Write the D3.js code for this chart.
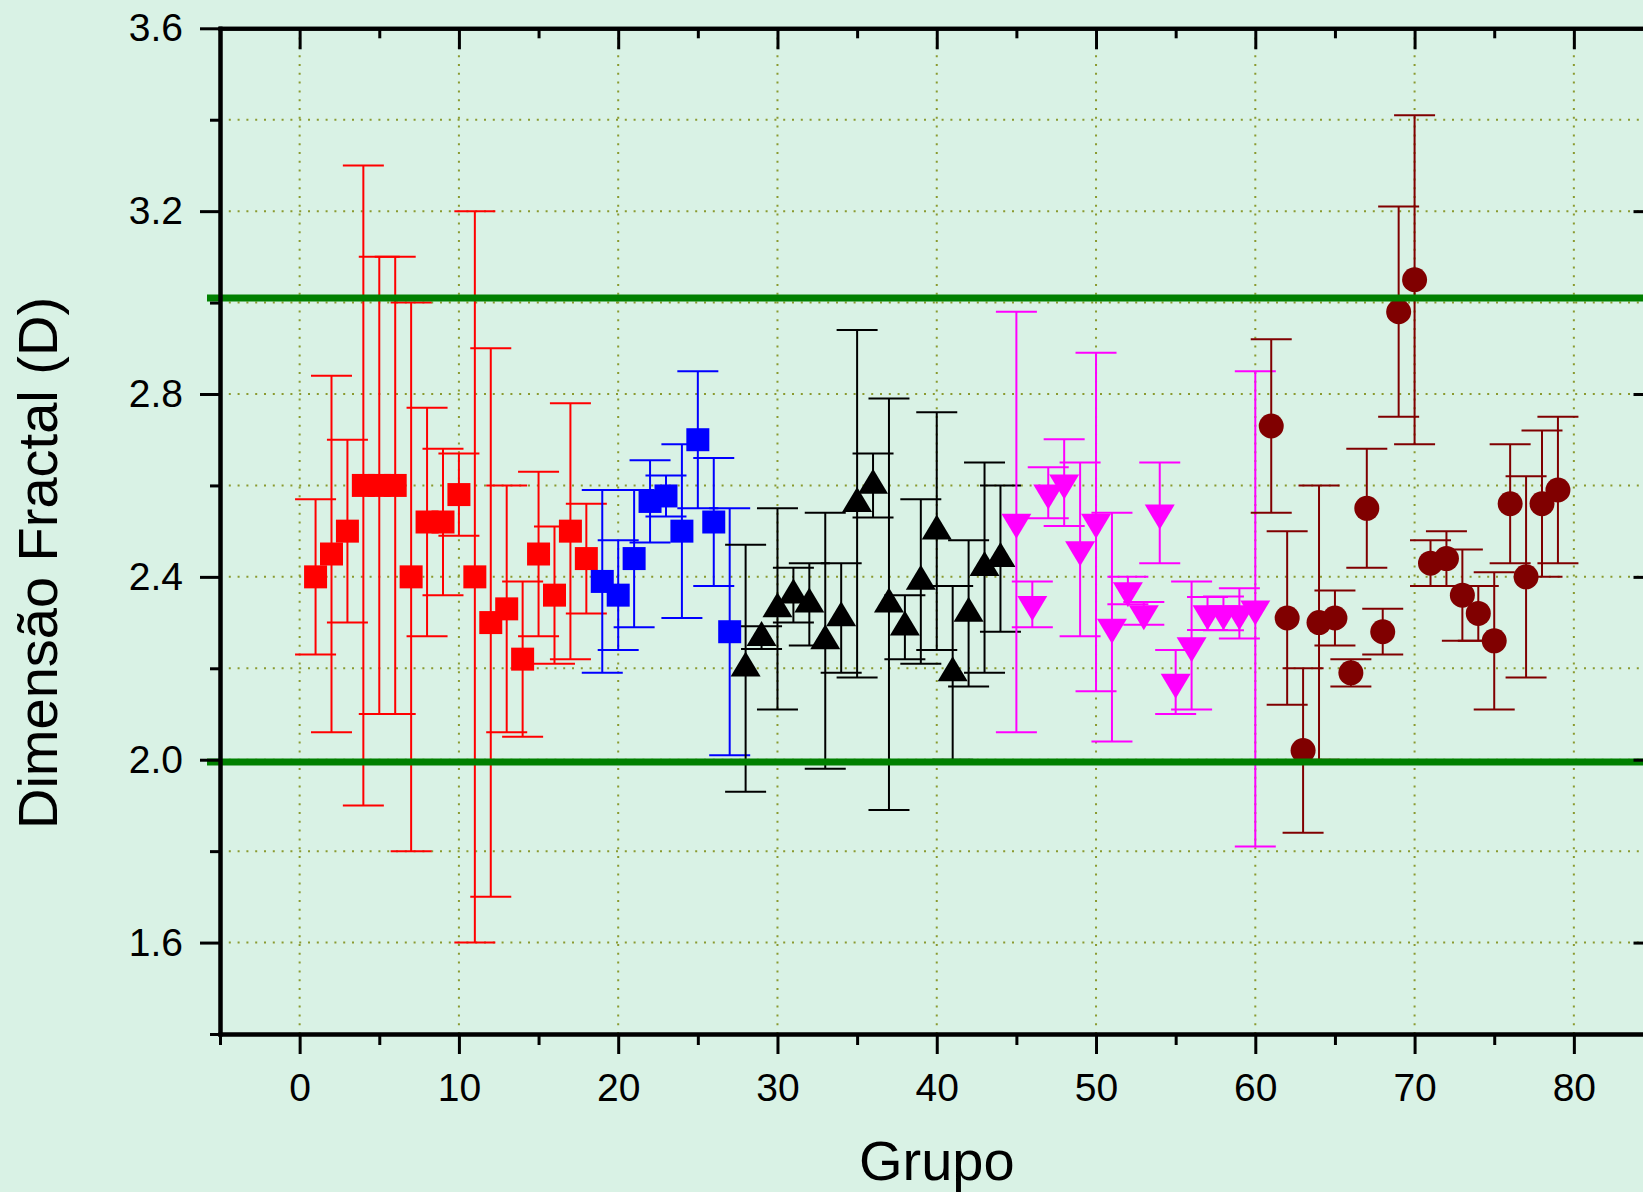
<!DOCTYPE html>
<html>
<head>
<meta charset="utf-8">
<script src="https://cdn.jsdelivr.net/npm/d3@7"></script>
<style>
  body { margin: 0; overflow: hidden; background: #d9f2e5; }
  text { font-family: "Liberation Sans", Arial, sans-serif; fill: #000; }
</style>
</head>
<body>
<div class="chart"></div>
<script>
// values (group number, fractal dimension, error)

const redGroups = [1, 2, 3, 4, 5, 6, 7, 8, 9, 10, 11, 12, 13, 14, 15, 16, 17, 18]
const redValues = [2.40, 2.45, 2.50, 2.60, 2.60, 2.60, 2.40, 2.52, 2.52, 2.58, 2.40, 2.30, 2.33, 2.22, 2.45, 2.36, 2.50, 2.44]
const redErrors = [0.17, 0.39, 0.20, 0.70, 0.50, 0.50, 0.60, 0.25, 0.16, 0.09, 0.80, 0.60, 0.27, 0.17, 0.18, 0.15, 0.28, 0.12]

const blueGroups = [19, 20, 21, 22, 23, 24, 25, 26, 27]
const blueValues = [2.39, 2.36, 2.44, 2.565, 2.577, 2.50, 2.70, 2.52, 2.28]
const blueErrors = [0.20, 0.12, 0.15, 0.09, 0.045, 0.19, 0.15, 0.14, 0.27]

const blackGroups = [28, 29, 30, 31, 32, 33, 34, 35, 36, 37, 38, 39, 40, 41, 42, 43, 44]
const blackValues = [2.20, 2.267, 2.33, 2.36, 2.34, 2.26, 2.31, 2.56, 2.60, 2.34, 2.29, 2.39, 2.50, 2.19, 2.32, 2.42, 2.44]
const blackErrors = [0.27, 0.025, 0.22, 0.06, 0.09, 0.28, 0.12, 0.38, 0.07, 0.45, 0.07, 0.18, 0.26, 0.19, 0.16, 0.23, 0.16]

const magentaGroups = [45, 46, 47, 48, 49, 50, 51, 52, 53, 54, 55, 56, 57, 58, 59, 60]
const magentaValues = [2.52, 2.34, 2.584, 2.606, 2.46, 2.52, 2.29, 2.37, 2.32, 2.54, 2.17, 2.25, 2.32, 2.32, 2.32, 2.33]
const magentaErrors = [0.46, 0.05, 0.056, 0.095, 0.19, 0.37, 0.25, 0.03, 0.025, 0.11, 0.07, 0.14, 0.036, 0.037, 0.055, 0.52]

const maroonGroups = [61, 62, 63, 64, 65, 66, 67, 68, 69, 70, 71, 72, 73, 74, 75, 76, 77, 78, 79]
const maroonValues = [2.73, 2.31, 2.02, 2.30, 2.31, 2.19, 2.55, 2.28, 2.98, 3.05, 2.43, 2.44, 2.36, 2.32, 2.26, 2.56, 2.40, 2.56, 2.59]
const maroonErrors = [0.19, 0.19, 0.18, 0.30, 0.06, 0.03, 0.13, 0.05, 0.23, 0.36, 0.05, 0.06, 0.10, 0.06, 0.15, 0.13, 0.22, 0.16, 0.16]

// horizontal reference lines
const limitValues = [1.995, 3.01]

// ticks
const xMajorTicks = [0, 10, 20, 30, 40, 50, 60, 70, 80]
const xMinorTicks = [-5, 5, 15, 25, 35, 45, 55, 65, 75, 85]
const yMajorTicks = [1.6, 2.0, 2.4, 2.8, 3.2, 3.6]
const yMinorTicks = [1.4, 1.8, 2.2, 2.6, 3.0, 3.4]
const yGridTicks = [1.6, 1.8, 2.0, 2.2, 2.4, 2.6, 2.8, 3.0, 3.2, 3.4]

const width = 1643
const height = 1192
const plotLeft = 220, plotRight = 1653.5, plotTop = 28.3, plotBottom = 1034

const x = d3.scaleLinear().domain([-5, 85]).range([plotLeft, plotRight])
const y = d3.scaleLinear().domain([1.4, 3.6]).range([plotBottom, plotTop])

const svg = d3.select('.chart')
    .append('svg')
    .attr('width', width)
    .attr('height', height)

svg.append('rect')
    .attr('width', width)
    .attr('height', height)
    .attr('fill', '#d9f2e5')

// dotted grid
const gridColor = '#8a9a30'
svg.selectAll('.ygrid')
    .data(yGridTicks)
    .enter()
    .append('line')
    .attr('x1', plotLeft)
    .attr('x2', plotRight)
    .attr('y1', d => y(d))
    .attr('y2', d => y(d))
    .attr('stroke', gridColor)
    .attr('stroke-width', 2)
    .attr('stroke-dasharray', '2,6.8')

svg.selectAll('.xgrid')
    .data(xMajorTicks)
    .enter()
    .append('line')
    .attr('x1', d => x(d))
    .attr('x2', d => x(d))
    .attr('y1', plotBottom)
    .attr('y2', plotTop)
    .attr('stroke', gridColor)
    .attr('stroke-width', 2)
    .attr('stroke-dasharray', '2,6.8')

// marker shapes
const shapes = {
    square: 'M-11.5,-11.5H11.5V11.5H-11.5Z',
    up: 'M0,-16.7L15,8.3L-15,8.3Z',
    down: 'M0,16.7L15,-8.3L-15,-8.3Z',
    circle: d3.symbol(d3.symbolCircle, Math.PI * 12.5 * 12.5)()
}

const series = [
    { groups: redGroups, values: redValues, errors: redErrors, color: '#ff0000', shape: 'square' },
    { groups: blueGroups, values: blueValues, errors: blueErrors, color: '#0000ff', shape: 'square' },
    { groups: blackGroups, values: blackValues, errors: blackErrors, color: '#000000', shape: 'up' },
    { groups: magentaGroups, values: magentaValues, errors: magentaErrors, color: '#ff00ff', shape: 'down' },
    { groups: maroonGroups, values: maroonValues, errors: maroonErrors, color: '#800000', shape: 'circle' }
]

const cap = 20.5

series.forEach(s => {
    const pts = s.groups.map((g, i) => ({ g: g, v: s.values[i], e: s.errors[i] }))
    const g = svg.append('g')
        .attr('stroke', s.color)
        .attr('stroke-width', 2)

    g.selectAll('.bar')
        .data(pts)
        .enter()
        .append('line')
        .attr('x1', d => x(d.g))
        .attr('x2', d => x(d.g))
        .attr('y1', d => y(d.v + d.e))
        .attr('y2', d => y(d.v - d.e))

    g.selectAll('.capTop')
        .data(pts)
        .enter()
        .append('line')
        .attr('x1', d => x(d.g) - cap)
        .attr('x2', d => x(d.g) + cap)
        .attr('y1', d => y(d.v + d.e))
        .attr('y2', d => y(d.v + d.e))

    g.selectAll('.capBottom')
        .data(pts)
        .enter()
        .append('line')
        .attr('x1', d => x(d.g) - cap)
        .attr('x2', d => x(d.g) + cap)
        .attr('y1', d => y(d.v - d.e))
        .attr('y2', d => y(d.v - d.e))

    svg.append('g').selectAll('.marker')
        .data(pts)
        .enter()
        .append('path')
        .attr('d', shapes[s.shape])
        .attr('transform', d => `translate(${x(d.g)},${y(d.v)})`)
        .attr('fill', s.color)
})

// green limit lines on top
svg.selectAll('.limit')
    .data(limitValues)
    .enter()
    .append('line')
    .attr('x1', plotLeft - 13)
    .attr('x2', width + 20)
    .attr('y1', d => y(d))
    .attr('y2', d => y(d))
    .attr('stroke', '#008000')
    .attr('stroke-width', 7)

// axes
function styleAxis(sel) {
    sel.select('.domain')
        .attr('stroke-width', 4)
        .attr('stroke-linecap', 'square')
    sel.selectAll('.tick line').attr('stroke-width', 3)
    sel.selectAll('.tick text')
        .attr('font-size', 39)
        .attr('font-family', '"Liberation Sans", Arial, sans-serif')
}

svg.append('g')
    .attr('transform', `translate(0,${plotBottom})`)
    .call(d3.axisBottom(x).tickValues(xMinorTicks).tickSize(11).tickSizeOuter(0).tickFormat(''))
    .call(styleAxis)
svg.append('g')
    .attr('transform', `translate(0,${plotBottom})`)
    .call(d3.axisBottom(x).tickValues(xMajorTicks).tickSize(20).tickSizeOuter(0).tickPadding(19))
    .call(styleAxis)

svg.append('g')
    .attr('transform', `translate(0,${plotTop})`)
    .call(d3.axisTop(x).tickValues(xMinorTicks).tickSize(-10).tickSizeOuter(0).tickFormat(''))
    .call(styleAxis)
svg.append('g')
    .attr('transform', `translate(0,${plotTop})`)
    .call(d3.axisTop(x).tickValues(xMajorTicks).tickSize(-21).tickSizeOuter(0).tickFormat(''))
    .call(styleAxis)

svg.append('g')
    .attr('transform', `translate(${plotLeft},0)`)
    .call(d3.axisLeft(y).tickValues(yMinorTicks).tickSize(10).tickSizeOuter(0).tickFormat(''))
    .call(styleAxis)
svg.append('g')
    .attr('transform', `translate(${plotLeft},0)`)
    .call(d3.axisLeft(y).tickValues(yMajorTicks).tickSize(20).tickSizeOuter(0).tickPadding(17).tickFormat(d3.format('.1f')))
    .call(styleAxis)

svg.append('g')
    .attr('transform', `translate(${plotRight},0)`)
    .call(d3.axisRight(y).tickValues(yMinorTicks).tickSize(-10).tickSizeOuter(0).tickFormat(''))
    .call(styleAxis)
svg.append('g')
    .attr('transform', `translate(${plotRight},0)`)
    .call(d3.axisRight(y).tickValues(yMajorTicks).tickSize(-20).tickSizeOuter(0).tickFormat(''))
    .call(styleAxis)

// axis titles
svg.append('text')
    .attr('x', (plotLeft + plotRight) / 2)
    .attr('y', 1180)
    .attr('text-anchor', 'middle')
    .attr('font-size', 56)
    .text('Grupo')

svg.append('text')
    .attr('transform', 'translate(57,563) rotate(-90)')
    .attr('text-anchor', 'middle')
    .attr('font-size', 56)
    .text('Dimensão Fractal (D)')
</script>
</body>
</html>
